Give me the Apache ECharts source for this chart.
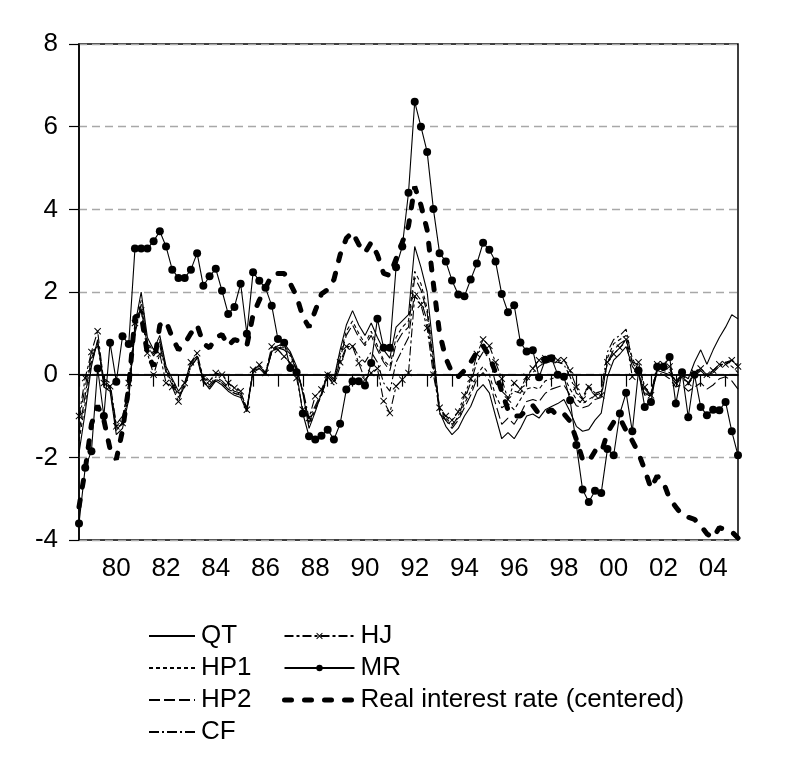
<!DOCTYPE html>
<html>
<head>
<meta charset="utf-8">
<script src="https://cdn.jsdelivr.net/npm/echarts@6/dist/echarts.min.js"></script>
<style>
  html, body { margin: 0; padding: 0; background: #fff; }
  #chart { width: 790px; height: 776px; }
</style>
</head>
<body>
<div id="chart"></div>
<script>
// quarterly sample 1979Q1 .. 2005Q3
const firstYear = 1979;
const nObs = 107;
const quarters = [];
for (let k = 0; k < nObs; k++) {
  quarters.push((firstYear + Math.floor(k / 4)) + 'Q' + (k % 4 + 1));
}
const yearLabels = ['80','82','84','86','88','90','92','94','96','98','00','02','04'];
const yTicks = [-4, -2, 0, 2, 4, 6, 8];

const qt = [
  -1.9, -0.9, 0.2, 0.85, -0.3, -0.4, -1.45, -1.3, -0.6, 1.2,
  2.0, 0.9, 0.6, 0.95, 0.2, -0.1, -0.4, -0.2, 0.3, 0.45,
  -0.15, -0.35, -0.15, -0.25, -0.4, -0.5, -0.55, -0.9, 0.1, 0.15,
  0.0, 0.55, 0.7, 0.75, 0.55, 0.2, -0.45, -1.3, -0.9, -0.45,
  0.05, -0.1, 0.6, 1.2, 1.55, 1.2, 0.95, 1.25, 0.9, 0.6,
  0.4, 1.15, 1.3, 1.45, 3.1, 2.6, 2.0, 0.6, -0.9, -1.25,
  -1.45, -1.3, -1.0, -0.77, -0.4, -0.24, -0.44, -1.0, -1.55, -1.4,
  -1.55, -1.3, -1.0, -0.95, -1.05, -0.85, -0.77, -0.7, -0.6, -0.9,
  -1.25, -1.37, -1.33, -1.1, -0.93, -0.05, 0.35, 0.5, 0.68, 0.2,
  0.0, -0.5, -0.45, 0.1, 0.05, 0.0, -0.15, 0.0, -0.1, 0.3,
  0.6, 0.25, 0.6, 0.9, 1.15, 1.45, 1.35
];
const hp1 = [
  -1.6, -0.7, 0.3, 0.8, -0.2, -0.3, -1.3, -1.2, -0.5, 1.1,
  1.8, 0.8, 0.55, 0.85, 0.15, -0.15, -0.45, -0.25, 0.25, 0.45,
  -0.15, -0.3, -0.1, -0.2, -0.35, -0.45, -0.5, -0.85, 0.1, 0.2,
  0.05, 0.6, 0.72, 0.7, 0.5, 0.15, -0.4, -1.2, -0.85, -0.5,
  0.0, -0.15, 0.5, 1.05, 1.3, 1.0, 0.75, 1.05, 0.7, 0.35,
  0.2, 0.9, 1.15, 1.3, 2.5, 2.2, 1.6, 0.4, -0.8, -1.05,
  -1.2, -1.05, -0.7, -0.4, 0.0, 0.2, 0.0, -0.5, -0.8, -0.7,
  -0.85, -0.6, -0.35, -0.3, -0.35, -0.15, -0.1, -0.05, -0.05, -0.35,
  -0.6, -0.7, -0.6, -0.5, -0.45, 0.4, 0.75, 0.85, 0.95, 0.4,
  0.1, -0.45, -0.45, 0.1, 0.1, 0.05, -0.15, -0.05, -0.2, -0.05,
  0.1, -0.05, 0.1, 0.2, 0.3, 0.2, 0.05
];
const hp2 = [
  -1.4, -0.5, 0.4, 0.75, -0.15, -0.35, -1.35, -1.15, -0.45, 1.05,
  1.7, 0.75, 0.5, 0.8, 0.1, -0.2, -0.5, -0.3, 0.2, 0.4,
  -0.2, -0.3, -0.12, -0.2, -0.35, -0.45, -0.5, -0.85, 0.05, 0.15,
  0.0, 0.55, 0.65, 0.65, 0.5, 0.1, -0.4, -1.15, -0.8, -0.5,
  -0.05, -0.2, 0.4, 0.95, 1.2, 0.9, 0.7, 0.95, 0.6, 0.3,
  0.1, 0.75, 1.0, 1.15, 2.35, 2.05, 1.5, 0.3, -0.85, -1.1,
  -1.3, -1.1, -0.8, -0.5, -0.1, 0.05, -0.15, -0.7, -1.2, -1.05,
  -1.2, -0.95, -0.65, -0.6, -0.65, -0.45, -0.35, -0.3, -0.25, -0.5,
  -0.75, -0.8, -0.75, -0.6, -0.55, 0.3, 0.6, 0.75, 0.85, 0.3,
  0.05, -0.5, -0.5, 0.05, 0.0, -0.1, -0.3, -0.25, -0.4, -0.3,
  -0.2, -0.35, -0.25, -0.1, -0.05, -0.15, -0.35
];
const cf = [
  -1.1, -0.3, 0.5, 0.7, -0.1, -0.2, -1.2, -1.0, -0.35, 1.0,
  1.6, 0.7, 0.45, 0.7, 0.05, -0.25, -0.55, -0.3, 0.2, 0.4,
  -0.1, -0.25, -0.05, -0.15, -0.3, -0.4, -0.45, -0.8, 0.1, 0.2,
  0.05, 0.55, 0.65, 0.6, 0.45, 0.1, -0.35, -1.05, -0.75, -0.45,
  -0.05, -0.25, 0.2, 0.65, 0.7, 0.45, 0.3, 0.55, 0.3, -0.2,
  -0.4, 0.3, 0.6, 0.9, 2.0, 1.8, 1.3, 0.2, -0.95, -1.1,
  -1.25, -1.0, -0.6, -0.2, 0.3, 0.55, 0.4, -0.2, -0.4, -0.55,
  -0.4, -0.45, -0.15, 0.05, 0.2, 0.3, 0.3, 0.3, 0.25, -0.05,
  -0.45, -0.55, -0.25, -0.45, -0.4, 0.55, 0.85, 0.95, 1.1, 0.3,
  0.25, -0.35, -0.5, 0.2, 0.25, 0.15, -0.25, -0.05, -0.25, 0.05,
  0.1, -0.05, 0.05, 0.2, 0.3, 0.35, 0.25
];
const hj = [
  -1.0, -0.08, 0.55, 1.05, -0.2, -0.28, -1.25, -1.17, -0.2, 1.25,
  1.55, 0.52, 0.0, 0.5, -0.2, -0.3, -0.65, -0.2, 0.3, 0.52,
  -0.08, -0.15, 0.04, 0.0, -0.2, -0.32, -0.4, -0.85, 0.12, 0.24,
  0.04, 0.68, 0.6, 0.44, 0.28, -0.08, -0.85, -1.05, -0.52, -0.36,
  0.0, -0.15, 0.3, 0.68, 0.68, 0.28, -0.12, 0.04, 0.15, -0.64,
  -0.93, -0.28, -0.12, 0.04, 1.9, 1.69, 1.13, 0.0, -0.8, -1.0,
  -1.1, -0.9, -0.5, -0.1, 0.5, 0.85, 0.7, 0.3, -0.1, -0.6,
  -0.2, -0.35, -0.05, 0.15, 0.35, 0.4, 0.4, 0.35, 0.35, 0.1,
  -0.3, -0.6, -0.3, -0.5, -0.5, 0.3, 0.5, 0.65, 0.85, -0.05,
  0.3, -0.3, -0.5, 0.25, 0.25, 0.2, -0.2, 0.0, -0.2, 0.05,
  0.15, 0.0, 0.1, 0.25, 0.25, 0.35, 0.2
];
const mr = [
  -3.6, -2.25, -1.85, 0.15, -1.0, 0.77, -0.17, 0.93, 0.74, 3.05,
  3.05, 3.05, 3.23, 3.47, 3.1, 2.54, 2.34, 2.34, 2.54, 2.94,
  2.15, 2.38, 2.56, 2.03, 1.47, 1.64, 2.2, 0.99, 2.48, 2.27,
  2.1, 1.67, 0.86, 0.77, 0.16, 0.06, -0.94, -1.49, -1.57, -1.48,
  -1.33, -1.57, -1.19, -0.36, -0.16, -0.16, -0.26, 0.28, 1.35, 0.65,
  0.65, 2.6, 3.1, 4.4, 6.6, 6.0, 5.39, 4.01, 2.94, 2.74,
  2.28, 1.94, 1.9, 2.3, 2.69, 3.19, 3.02, 2.74, 1.95, 1.51,
  1.68, 0.78, 0.56, 0.59, -0.06, 0.36, 0.4, 0.0, -0.05, -0.62,
  -1.7, -2.78, -3.08, -2.81, -2.86, -1.8, -1.95, -0.94, -0.44, -1.37,
  0.1, -0.78, -0.66, 0.19, 0.19, 0.43, -0.7, 0.06, -1.03, 0.0,
  -0.78, -0.98, -0.85, -0.86, -0.66, -1.37, -1.95
];
const realRate = [
  -3.2, -2.3, -1.2, -0.75, -1.1, -1.8, -2.05, -1.35, -0.3, 1.4,
  1.45, 0.5, 0.2, 1.2, 1.3, 0.9, 0.6, 0.75, 1.0, 1.2,
  0.75, 0.65, 0.9, 0.97, 0.7, 0.85, 0.8, 0.7, 1.45, 1.8,
  2.1, 2.4, 2.45, 2.45, 2.2, 1.9, 1.4, 1.15, 1.55, 1.95,
  2.06, 2.3, 2.9, 3.3, 3.45, 3.15, 2.95, 3.2, 2.9, 2.45,
  2.4, 2.8, 3.2, 3.6, 4.55, 4.1, 3.5, 2.2, 1.0, 0.4,
  0.05, -0.05, 0.1, 0.3, 0.55, 0.7, 0.45, 0.05, -0.4, -0.85,
  -1.0, -1.0, -0.85, -0.75, -0.95, -0.93, -0.85, -1.0, -0.95, -1.13,
  -1.57, -2.05, -2.1, -1.85, -1.9, -1.4, -1.15, -1.05, -1.35, -1.6,
  -1.9, -2.3, -2.75, -2.45, -2.6, -3.0, -3.2, -3.4, -3.45, -3.5,
  -3.65, -3.85, -3.95, -3.7, -3.75, -3.8, -3.95
];

const font = 'Liberation Sans, Arial, sans-serif';
const xMark = 'path://M0,1L1,0L5,4L9,0L10,1L6,5L10,9L9,10L5,6L1,10L0,9L4,5Z';
const realDash = { color: '#000', width: 5, type: [7, 13], cap: 'round' };

function line(name, data, dash, extra) {
  return Object.assign({
    name: name,
    type: 'line',
    data: data,
    symbol: 'none',
    animation: false,
    silent: true,
    color: '#000',
    lineStyle: { color: '#000', width: 1.1, type: dash }
  }, extra || {});
}

const hidden = { opacity: 0 };

const myChart = echarts.init(document.getElementById('chart'));
const option = {
  backgroundColor: '#fff',
  animation: false,
  grid: {
    left: 79, right: 52, top: 44, bottom: 236,
    show: true, borderColor: '#000', borderWidth: 1.5
  },
  legend: [
    {
      orient: 'vertical', left: 143, top: 615,
      itemWidth: 46, itemHeight: 8, itemGap: 0,
      textStyle: { fontFamily: font, fontSize: 26, color: '#000', lineHeight: 32, padding: [0, 0, 0, 1] },
      data: [
        { name: 'QT', itemStyle: hidden },
        { name: 'HP1', itemStyle: hidden },
        { name: 'HP2', itemStyle: hidden },
        { name: 'CF', itemStyle: hidden }
      ],
      selectedMode: false
    },
    {
      orient: 'vertical', left: 277, top: 615,
      itemWidth: 70, itemHeight: 8, itemGap: 0,
      textStyle: { fontFamily: font, fontSize: 26, color: '#000', lineHeight: 32, padding: [0, 0, 0, 1] },
      data: [
        { name: 'HJ' },
        { name: 'MR' },
        { name: 'Real interest rate (centered)', itemStyle: hidden, lineStyle: realDash }
      ],
      selectedMode: false
    }
  ],
  xAxis: {
    type: 'category',
    data: quarters,
    boundaryGap: false,
    axisLine: { lineStyle: { color: '#000', width: 1.5 } },
    axisTick: {
      length: 12,
      lineStyle: { color: '#000', width: 1.2 },
      interval: function (i) { return i % 4 === 0; }
    },
    axisLabel: {
      margin: 16,
      fontFamily: font, fontSize: 26, color: '#000',
      interval: function (i, v) {
        return v.slice(-1) === '3' && yearLabels.indexOf(v.slice(2, 4)) >= 0;
      },
      formatter: function (v) { return v.slice(2, 4); }
    },
    splitLine: { show: false }
  },
  yAxis: {
    type: 'value',
    min: yTicks[0], max: yTicks[yTicks.length - 1], interval: 2,
    axisLine: { show: true, lineStyle: { color: '#000', width: 1.5 } },
    axisTick: { show: true, length: 10, lineStyle: { color: '#000', width: 1.2 } },
    axisLabel: { margin: 21, fontFamily: font, fontSize: 26, color: '#000' },
    splitLine: { show: true, lineStyle: { color: '#a8a8a8', width: 1.3, type: [8, 5] } }
  },
  series: [
    line('QT', qt, 'solid', {
      markLine: {
        silent: true, symbol: ['none', 'none'], label: { show: false },
        lineStyle: { color: '#000', type: 'solid', width: 1.5 },
        data: [{ yAxis: 0 }]
      }
    }),
    line('HP1', hp1, [4, 3]),
    line('HP2', hp2, [11, 4]),
    line('CF', cf, [10, 3, 2, 3]),
    line('HJ', hj, [9, 3, 3, 3], {
      symbol: xMark, symbolSize: 7, showSymbol: true, showAllSymbol: true,
      itemStyle: { color: '#000' }
    }),
    line('MR', mr, 'solid', {
      symbol: 'circle', symbolSize: 8, showSymbol: true, showAllSymbol: true,
      itemStyle: { color: '#000' }
    }),
    line('Real interest rate (centered)', realRate, [7, 13], {
      lineStyle: realDash
    })
  ]
};
myChart.setOption(option);
</script>
</body>
</html>
